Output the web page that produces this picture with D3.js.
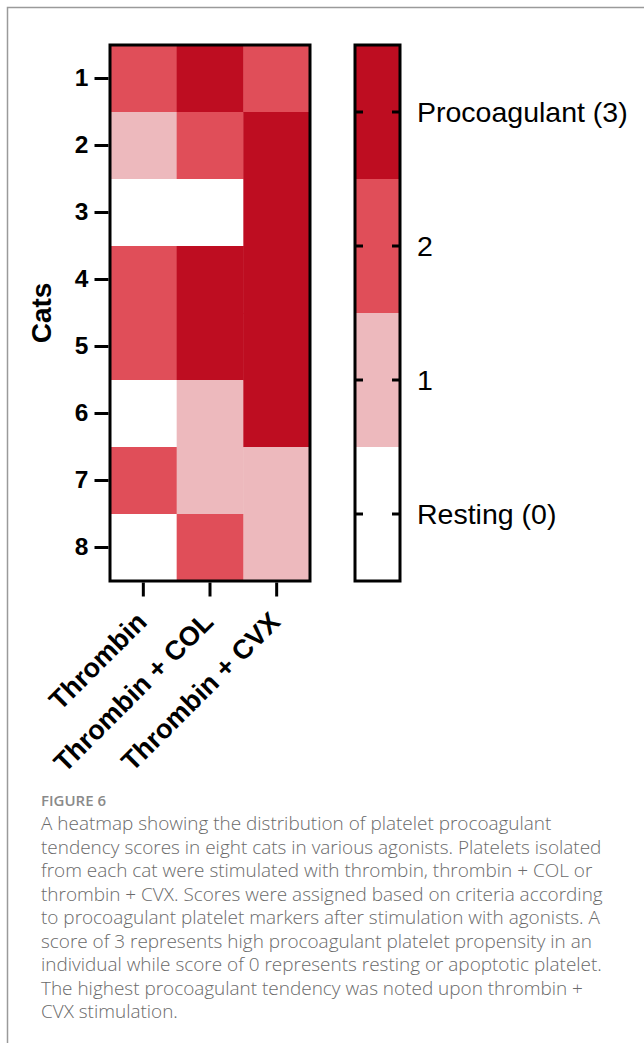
<!DOCTYPE html>
<html><head><meta charset="utf-8">
<script src="https://cdn.jsdelivr.net/npm/d3@7"></script>
<style>body{margin:0;background:#fff}svg{display:block}</style>
</head><body>
<script>
const cats = ["1","2","3","4","5","6","7","8"];
const agonists = ["Thrombin","Thrombin + COL","Thrombin + CVX"];
const scoreThrombin = [2,1,0,2,2,0,2,0];
const scoreCOL      = [3,2,0,3,3,1,1,2];
const scoreCVX      = [2,3,3,3,3,3,1,1];
const legendScores = [3,2,1,0];
const legendLabels = ["Procoagulant (3)","2","1","Resting (0)"];
const scoreColors = ["#ffffff","#edb9bd","#e04e59","#be0d21"];
const captionTitle = "FIGURE 6";
const captionLines = [
"A heatmap showing the distribution of platelet procoagulant",
"tendency scores in eight cats in various agonists. Platelets isolated",
"from each cat were stimulated with thrombin, thrombin + COL or",
"thrombin + CVX. Scores were assigned based on criteria according",
"to procoagulant platelet markers after stimulation with agonists. A",
"score of 3 represents high procoagulant platelet propensity in an",
"individual while score of 0 represents resting or apoptotic platelet.",
"The highest procoagulant tendency was noted upon thrombin +",
"CVX stimulation."
];

const W=644,H=1043;
const svg=d3.select("body").append("svg").attr("width",W).attr("height",H);

svg.append("path").attr("d",`M7.5,${H} V7.5 H${W}`).attr("fill","none").attr("stroke","#9a9a9a").attr("stroke-width",1.5);

const series=[scoreThrombin,scoreCOL,scoreCVX];
const cells=[];
cats.forEach((c,i)=>agonists.forEach((a,j)=>cells.push({cat:c,ag:a,v:series[j][i]})));

const x=d3.scaleBand().domain(agonists).range([110,310]);
const y=d3.scaleBand().domain(cats).range([45,581]);
const color=d3.scaleOrdinal().domain([0,1,2,3]).range(scoreColors);

const g=svg.append("g");
g.selectAll("rect.cell").data(cells).join("rect").attr("class","cell")
 .attr("x",d=>x(d.ag)).attr("y",d=>y(d.cat))
 .attr("width",x.bandwidth()+0.5).attr("height",y.bandwidth()+0.5)
 .attr("fill",d=>color(d.v));
g.append("rect").attr("x",110).attr("y",45).attr("width",200).attr("height",536)
 .attr("fill","none").attr("stroke","#000").attr("stroke-width",3);

const font="'Liberation Sans', Arial, sans-serif";
const ya=svg.append("g").attr("transform","translate(108.5,0)")
 .call(d3.axisLeft(y).tickSize(14).tickPadding(6));
ya.select(".domain").remove();
ya.selectAll(".tick line").attr("stroke","#000").attr("stroke-width",3);
ya.selectAll(".tick text").style("font-family",font).style("font-weight","bold").style("font-size","24.5px").attr("fill","#000");

const xa=svg.append("g").attr("transform","translate(0,582.5)")
 .call(d3.axisBottom(x).tickSize(14).tickPadding(0));
xa.select(".domain").remove();
xa.selectAll(".tick line").attr("stroke","#000").attr("stroke-width",3);
xa.selectAll(".tick text").style("font-family",font).style("font-weight","bold").style("font-size","27px").attr("fill","#000")
 .attr("text-anchor","end").attr("dy",null).attr("y",0)
 .attr("transform","translate(5,41) rotate(-45)");

svg.append("text").attr("transform","translate(51,313) rotate(-90)")
 .attr("text-anchor","middle").style("font-family",font).style("font-weight","bold").style("font-size","28px").text("Cats");

const ly=d3.scaleBand().domain(legendScores).range([45,581]);
const lg=svg.append("g");
lg.selectAll("rect").data(legendScores).join("rect")
 .attr("x",355).attr("y",d=>ly(d)).attr("width",45).attr("height",ly.bandwidth()+0.5)
 .attr("fill",d=>color(d));
lg.append("rect").attr("x",355).attr("y",45).attr("width",45).attr("height",536)
 .attr("fill","none").attr("stroke","#000").attr("stroke-width",3);
legendScores.forEach((s,i)=>{
  const yy=ly(s)+ly.bandwidth()/2;
  lg.append("line").attr("x1",355).attr("x2",363).attr("y1",yy).attr("y2",yy).attr("stroke","#000").attr("stroke-width",3);
  lg.append("line").attr("x1",392).attr("x2",400).attr("y1",yy).attr("y2",yy).attr("stroke","#000").attr("stroke-width",3);
  lg.append("text").attr("x",417).attr("y",yy).attr("dy","0.36em").style("font-family",font).style("font-size","28.5px").attr("fill","#000").text(legendLabels[i]);
});

svg.append("text").attr("x",41).attr("y",806).style("font-family","'Open Sans', sans-serif").style("font-weight",600)
 .style("font-size","15px").attr("fill","#8a8a8a").text(captionTitle);
const cap=svg.append("text").style("font-family","'Open Sans', sans-serif").style("font-weight",300).style("font-size","18.95px").attr("fill","#6a6a6a");
captionLines.forEach((l,i)=>cap.append("tspan").attr("x",41).attr("y",830+i*23.5).text(l));
</script>
</body></html>
